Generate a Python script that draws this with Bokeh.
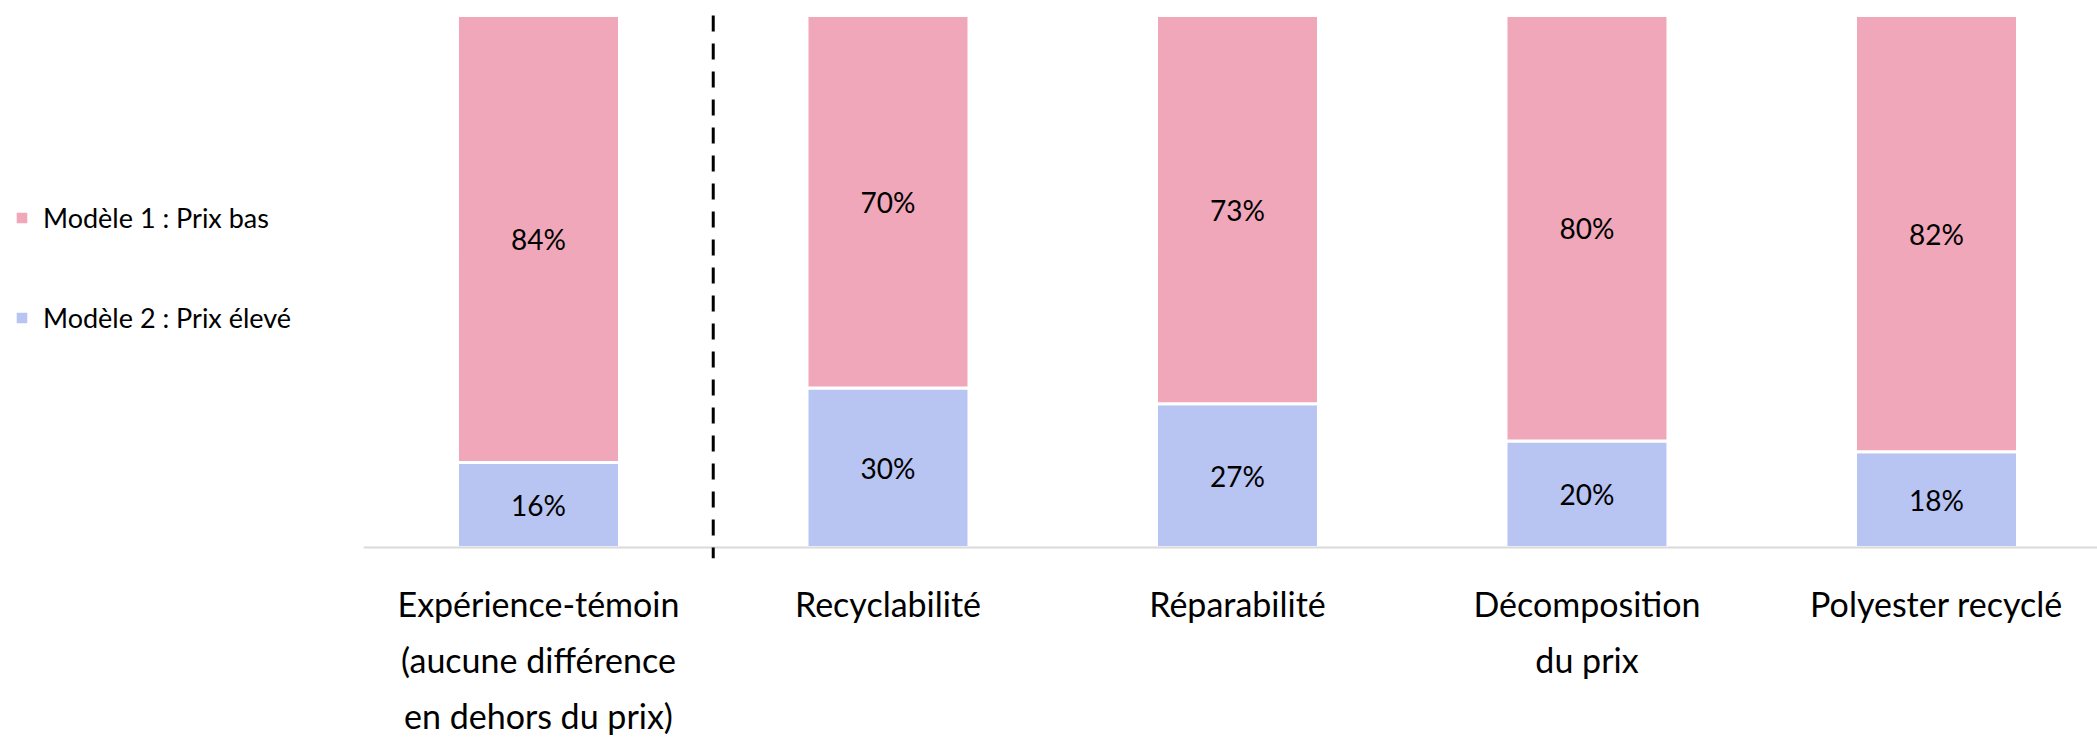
from bokeh.plotting import figure
from bokeh.models import ColumnDataSource, Range1d, Legend, LegendItem
from bokeh.core.properties import value
from bokeh.embed import file_html
from bokeh.resources import INLINE

# ---- data ----
categories = [
    "Expérience-témoin\n(aucune différence\nen dehors du prix)",
    "Recyclabilité",
    "Réparabilité",
    "Décomposition\ndu prix",
    "Polyester recyclé",
]
prix_bas = [84, 70, 73, 80, 82]      # Modèle 1 : Prix bas
prix_eleve = [16, 30, 27, 20, 18]    # Modèle 2 : Prix élevé
series_names = ["Modèle 1 : Prix bas", "Modèle 2 : Prix élevé"]

PINK = "#F0A7BA"
BLUE = "#B8C4F2"
FONT = "Lato"

W, H = 2097, 737
xs = list(range(len(categories)))
X_END = 4.4607

p = figure(width=W, height=H, output_backend="svg", toolbar_location=None,
           x_range=Range1d(-1.5393, X_END), y_range=Range1d(-35.71, 102.82),
           min_border=0, outline_line_color=None)
p.axis.visible = False
p.grid.visible = False
p.background_fill_color = "white"

bw = 0.4635
src = ColumnDataSource(dict(
    x=xs, bas=prix_bas, eleve=prix_eleve,
    top_all=[a + b for a, b in zip(prix_bas, prix_eleve)],
))
r_blue = p.vbar(x="x", bottom=0, top="eleve", width=bw, source=src,
                fill_color=BLUE, line_color="white", line_width=3)
r_pink = p.vbar(x="x", bottom="eleve", top="top_all", width=bw, source=src,
                fill_color=PINK, line_color="white", line_width=3)

# baseline
p.segment(x0=[-0.5], x1=[X_END], y0=[0], y1=[0], line_color="#D9D9D9", line_width=2)

# dashed separator between control and treatments
p.segment(x0=[(xs[0] + xs[1]) / 2], x1=[(xs[0] + xs[1]) / 2], y0=[100], y1=[-2],
          line_color="black", line_width=3, line_dash="16 12")

# value labels
lab = ColumnDataSource(dict(
    x=xs + xs,
    y=[e + b / 2 for e, b in zip(prix_eleve, prix_bas)] + [e / 2 for e in prix_eleve],
    t=[f"{v}%" for v in prix_bas] + [f"{v}%" for v in prix_eleve],
))
p.text(x="x", y="y", text="t", source=lab, text_align="center", text_baseline="middle",
       text_font=value(FONT), text_font_size="28px", text_color="black")

# category labels (one row per line)
cx, cy, ct, co = [], [], [], []
for i, c in enumerate(categories):
    for j, line in enumerate(c.split("\n")):
        cx.append(i)
        cy.append(0)
        ct.append(line)
        co.append(56 + 56 * j)
csrc = ColumnDataSource(dict(x=cx, y=cy, t=ct, o=co))
p.text(x="x", y="y", text="t", y_offset="o", source=csrc, text_align="center",
       text_baseline="middle", text_font=value(FONT), text_font_size="34px",
       text_color="black")

legend = Legend(items=[LegendItem(label=series_names[0], renderers=[r_pink]),
                       LegendItem(label=series_names[1], renderers=[r_blue])],
                location=(13, 403), orientation="vertical",
                padding=0, margin=0, spacing=66,
                glyph_width=17, glyph_height=17, label_height=34,
                label_standoff=13, label_text_font=FONT,
                label_text_font_size="27px", label_text_color="black",
                border_line_alpha=0, background_fill_alpha=0)
p.add_layout(legend)

open("out.html", "w").write(file_html(p, INLINE))
